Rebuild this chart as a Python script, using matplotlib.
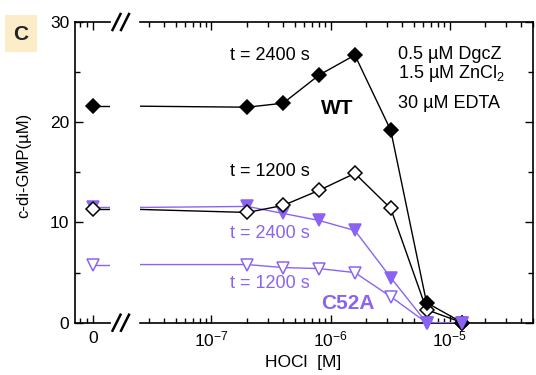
import matplotlib.pyplot as plt
import numpy as np
from matplotlib.lines import Line2D
from matplotlib.patches import Rectangle
from matplotlib.ticker import FixedLocator, LogLocator, NullFormatter

plt.rcParams['font.family'] = ['Liberation Sans', 'DejaVu Sans']
plt.rcParams['mathtext.fontset'] = 'custom'
plt.rcParams['mathtext.rm'] = 'Liberation Sans'

PURPLE = '#8b63f2'

# HOCl concentrations (M) of the nonzero points
hocl = [2e-7, 4e-7, 8e-7, 1.6e-6, 3.2e-6, 6.4e-6, 1.28e-5]

# c-di-GMP (uM) at HOCl = 0 and at the concentrations above
wt_2400_zero = 21.6
wt_2400 = [21.5, 21.9, 24.7, 26.7, 19.2, 2.0, 0.0]
wt_1200_zero = 11.3
wt_1200 = [11.0, 11.7, 13.2, 14.9, 11.4, 1.3, 0.0]
c52a_2400_zero = 11.5
c52a_2400 = [11.6, 10.9, 10.2, 9.2, 4.5, 0.0, 0.0]
c52a_1200_zero = 5.8
c52a_1200 = [5.8, 5.5, 5.4, 5.0, 2.6, 0.0, 0.0]

series = [
    # zero value, values, color, marker, facecolor, zorder
    (c52a_1200_zero, c52a_1200, PURPLE, 'v', 'white', 3),
    (c52a_2400_zero, c52a_2400, PURPLE, 'v', PURPLE, 3),
    (wt_1200_zero, wt_1200, 'black', 'D', 'white', 4),
    (wt_2400_zero, wt_2400, 'black', 'D', 'black', 4),
]

W, H = 536, 375
fig = plt.figure(figsize=(W / 100, H / 100), dpi=100)

y0_px, y1_px = 322.7, 22.0
bottom = 1 - y0_px / H
height = (y0_px - y1_px) / H
ax_l = fig.add_axes([75 / W, bottom, (110 - 75) / W, height])
ax_r = fig.add_axes([140 / W, bottom, (533 - 140) / W, height])

XR = (10 ** -7.6, 10 ** -4.3)
XL = (-1.0, 0.95)

for zero, vals, color, marker, face, z in series:
    ms = 7.5 if marker == 'D' else 9
    # left panel: HOCl = 0
    ax_l.plot([0, XL[1]], [zero, zero], color=color, lw=1.0, zorder=z)
    ax_l.plot([0], [zero], marker=marker, ms=ms, mfc=face, mec=color,
              mew=1.1, ls='none', zorder=z + 0.5)
    # right panel: log scale
    ax_r.plot([XR[0]] + hocl, [zero] + vals, color=color, lw=1.0, zorder=z)
    ax_r.plot(hocl, vals, marker=marker, ms=ms, mfc=face, mec=color,
              mew=1.1, ls='none', zorder=z + 0.5, clip_on=False)

# C52A points that dropped to zero sit on top of everything
x_arr = np.array(hocl)
v_arr = np.array(c52a_2400)
ax_r.plot(x_arr[v_arr == 0], v_arr[v_arr == 0], marker='v', ms=9, mfc=PURPLE,
          mec=PURPLE, mew=1.1, ls='none', zorder=6, clip_on=False)

for ax in (ax_l, ax_r):
    ax.set_ylim(0, 30)
    ax.yaxis.set_major_locator(FixedLocator([0, 10, 20, 30]))
    ax.yaxis.set_minor_locator(FixedLocator([5, 15, 25]))
    ax.tick_params(which='both', direction='in', top=True, width=1.0,
                   labelsize=12.5, colors='black')
    ax.tick_params(which='major', length=6)
    ax.tick_params(which='minor', length=3.5)
    for s in ax.spines.values():
        s.set_linewidth(1.2)

ax_l.set_xlim(*XL)
ax_l.xaxis.set_major_locator(FixedLocator([0]))
ax_l.xaxis.set_minor_locator(FixedLocator([-0.7, -0.33]))
ax_l.set_xticklabels(['0'])
ax_l.spines['right'].set_visible(False)
ax_l.tick_params(axis='y', right=False, pad=4)
ax_l.tick_params(axis='x', pad=6)

ax_r.set_xscale('log')
ax_r.set_xlim(*XR)
ax_r.xaxis.set_major_locator(LogLocator(base=10, numticks=10))
ax_r.xaxis.set_minor_locator(LogLocator(base=10, subs=range(2, 10), numticks=10))
ax_r.xaxis.set_minor_formatter(NullFormatter())
ax_r.spines['left'].set_visible(False)
ax_r.tick_params(axis='y', which='both', left=False, right=True, labelleft=False)
ax_r.tick_params(axis='x', pad=5)

# break marks
for yp in (y0_px, y1_px):
    for xs in (112.5, 121.0):
        fig.add_artist(Line2D([xs / W, (xs + 8) / W],
                              [1 - (yp + 8) / H, 1 - (yp - 8) / H],
                              color='black', lw=1.8))

# annotations
txt = dict(fontsize=13, va='center', ha='left')
ax_r.text(1.42e-7, 26.7, 't = 2400 s', color='black', **txt)
ax_r.text(1.42e-7, 15.1, 't = 1200 s', color='black', **txt)
ax_r.text(1.42e-7, 8.9, 't = 2400 s', color=PURPLE, **txt)
ax_r.text(1.42e-7, 3.9, 't = 1200 s', color=PURPLE, **txt)
ax_r.text(8.3e-7, 21.4, 'WT', color='black', fontsize=15, fontweight='bold',
          va='center', ha='left')
ax_r.text(8.3e-7, 1.9, 'C52A', color=PURPLE, fontsize=15, fontweight='bold',
          va='center', ha='left')

cond = dict(fontsize=13, va='center', ha='left', color='black')
ax_r.text(3.7e-6, 26.8, '0.5 µM DgcZ', **cond)
ax_r.text(3.7e-6, 24.9, '1.5 µM ZnCl$_2$', **cond)
ax_r.text(3.7e-6, 21.9, '30 µM EDTA', **cond)

fig.text(24 / W, 1 - 165 / H, 'c-di-GMP(µM)', rotation=90, fontsize=12,
         ha='center', va='center')
fig.text(303 / W, 1 - 363 / H, 'HOCl  [M]', fontsize=12.5,
         ha='center', va='center')

# panel letter
fig.add_artist(Rectangle((5 / W, 1 - 52 / H), 32 / W, 37 / H,
                         transform=fig.transFigure, facecolor='#fdecc8',
                         edgecolor='none'))
fig.text(21 / W, 1 - 34 / H, 'C', fontsize=15, fontweight='bold',
         ha='center', va='center', color='#222222')

fig.savefig('out.png', dpi=100)
